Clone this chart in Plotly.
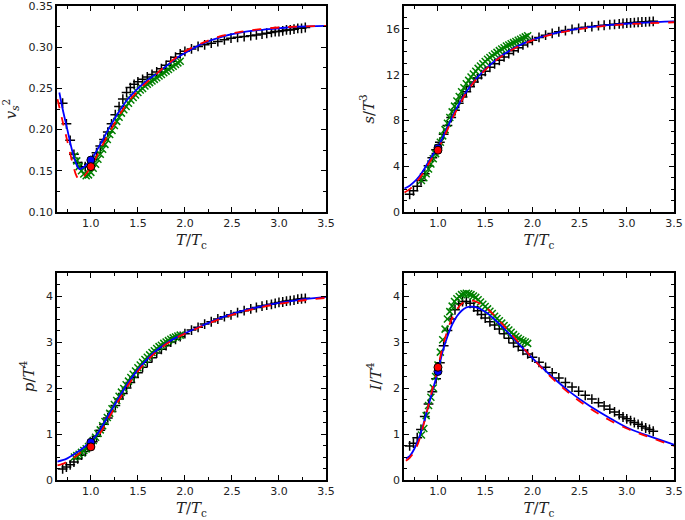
import plotly.graph_objects as go
from plotly.subplots import make_subplots

# ---------------- data ----------------
# lattice data set 1 (black +)
T_black = [0.70,0.74,0.78,0.82,0.86,0.90,0.94,0.98,1.02,1.06,1.10,1.14,1.18,1.22,1.26,1.30,1.34,1.38,1.42,1.46,
           1.50,1.55,1.60,1.65,1.70,1.75,1.80,1.85,1.90,1.95,2.00,2.07,2.14,2.21,2.28,2.35,2.42,2.49,2.56,2.63,
           2.70,2.76,2.82,2.87,2.92,2.96,3.00,3.04,3.08,3.12,3.16,3.20,3.24,3.28]
vs2_black = [0.232,0.207,0.187,0.170,0.160,0.155,0.155,0.158,0.164,0.172,0.180,0.188,0.197,0.207,0.218,0.228,0.237,0.245,0.251,0.255,
             0.258,0.261,0.264,0.267,0.270,0.274,0.278,0.283,0.288,0.292,0.295,0.298,0.301,0.303,0.305,0.307,0.309,0.311,0.312,0.313,
             0.314,0.315,0.316,0.317,0.318,0.319,0.319,0.320,0.321,0.321,0.322,0.323,0.323,0.324]
s_black = [1.55,1.85,2.25,2.75,3.35,4.05,4.75,5.45,6.10,6.80,7.55,8.25,8.90,9.50,10.05,10.50,10.95,11.35,11.70,12.00,
           12.30,12.65,12.95,13.25,13.55,13.85,14.10,14.35,14.60,14.80,15.00,15.25,15.45,15.60,15.75,15.85,15.95,16.05,16.15,16.20,
           16.28,16.32,16.37,16.40,16.44,16.47,16.50,16.53,16.55,16.58,16.60,16.62,16.64,16.66]
p_black = [0.24,0.28,0.33,0.39,0.46,0.54,0.62,0.72,0.83,0.95,1.08,1.21,1.35,1.49,1.62,1.76,1.88,2.00,2.12,2.23,
           2.33,2.45,2.56,2.66,2.76,2.84,2.92,3.00,3.06,3.12,3.18,3.26,3.32,3.39,3.44,3.50,3.55,3.59,3.64,3.68,
           3.72,3.75,3.78,3.80,3.82,3.84,3.86,3.87,3.89,3.90,3.91,3.93,3.94,3.95]
I_black = [0.74,0.80,0.92,1.10,1.38,1.65,1.92,2.20,2.55,2.92,3.25,3.50,3.70,3.83,3.88,3.88,3.84,3.76,3.68,3.60,
           3.52,3.44,3.37,3.28,3.18,3.08,2.98,2.90,2.82,2.74,2.67,2.56,2.45,2.33,2.22,2.12,2.02,1.93,1.84,1.76,
           1.68,1.61,1.54,1.48,1.42,1.37,1.33,1.29,1.25,1.21,1.17,1.13,1.10,1.06]

# lattice data set 2 (green x)
T_green = [0.825,0.850,0.875,0.900,0.925,0.950,0.975,1.000,1.025,1.050,1.075,1.100,1.125,1.150,1.175,1.200,
           1.225,1.250,1.275,1.300,1.325,1.350,1.375,1.400,1.425,1.450,1.475,1.500,1.525,1.550,1.575,1.600,
           1.625,1.650,1.675,1.700,1.725,1.750,1.775,1.800,1.825,1.850,1.875,1.900,1.925,1.950]
vs2_green = [0.168,0.162,0.155,0.150,0.146,0.144,0.145,0.148,0.153,0.158,0.164,0.170,0.176,0.182,0.188,0.194,
             0.199,0.205,0.210,0.215,0.220,0.224,0.228,0.232,0.236,0.239,0.242,0.245,0.248,0.250,0.253,0.255,
             0.257,0.259,0.261,0.263,0.265,0.267,0.269,0.271,0.273,0.275,0.277,0.279,0.281,0.283]
s_green = [2.75,3.00,3.35,3.75,4.20,4.65,5.10,5.60,6.10,6.65,7.20,7.75,8.25,8.75,9.25,9.70,
           10.10,10.50,10.85,11.20,11.50,11.80,12.05,12.30,12.55,12.75,12.95,13.15,13.35,13.50,13.65,13.80,
           13.95,14.10,14.25,14.35,14.50,14.60,14.70,14.80,14.90,15.00,15.10,15.20,15.30,15.40]
p_green = [0.50,0.53,0.56,0.60,0.64,0.68,0.73,0.79,0.86,0.93,1.01,1.09,1.18,1.27,1.36,1.45,
           1.55,1.64,1.73,1.82,1.91,1.99,2.07,2.15,2.23,2.30,2.37,2.44,2.50,2.56,2.62,2.67,
           2.72,2.77,2.81,2.86,2.90,2.93,2.97,3.00,3.03,3.06,3.09,3.11,3.13,3.15]
I_green = [0.98,1.12,1.40,1.62,1.80,2.00,2.25,2.50,2.78,3.05,3.28,3.50,3.66,3.78,3.88,3.94,
           3.99,4.03,4.05,4.06,4.05,4.03,4.00,3.97,3.92,3.87,3.82,3.77,3.72,3.67,3.62,3.56,
           3.51,3.46,3.41,3.36,3.31,3.26,3.21,3.16,3.12,3.08,3.05,3.02,3.00,2.97]

# model curves (blue solid, red dashed)
T_vs2_curve = [0.665,0.70,0.75,0.80,0.85,0.88,0.92,0.96,1.00,1.05,1.10,1.20,1.30,1.40,1.50,1.60,1.70,1.80,1.90,2.00,
               2.20,2.40,2.60,2.80,3.00,3.20,3.50]
vs2_blue = [0.245,0.225,0.200,0.175,0.157,0.152,0.154,0.158,0.163,0.172,0.182,0.203,0.222,0.238,0.250,0.260,0.268,0.277,0.286,0.293,
            0.305,0.313,0.318,0.321,0.323,0.325,0.326]
T_vs2_red = [0.645,0.70,0.75,0.80,0.85,0.88,0.92,0.96,1.00,1.05,1.10,1.20,1.30,1.40,1.50,1.60,1.70,1.80,1.90,2.00,
             2.20,2.40,2.60,2.80,3.00,3.20,3.50]
vs2_red = [0.237,0.210,0.186,0.162,0.143,0.139,0.142,0.148,0.155,0.165,0.176,0.197,0.217,0.234,0.247,0.258,0.268,0.278,0.287,0.295,
           0.306,0.314,0.319,0.322,0.324,0.325,0.326]

T_curve = [0.645,0.70,0.75,0.80,0.85,0.90,0.95,1.00,1.05,1.10,1.20,1.30,1.40,1.50,1.60,1.70,1.80,1.90,2.00,
           2.20,2.40,2.60,2.80,3.00,3.20,3.50]
s_blue = [2.05,2.30,2.65,3.10,3.70,4.40,5.05,5.70,6.50,7.40,9.10,10.50,11.60,12.45,13.20,13.80,14.30,14.70,15.05,
          15.55,15.90,16.15,16.33,16.45,16.55,16.65]
s_red = [1.70,2.00,2.40,2.90,3.50,4.20,4.85,5.45,6.30,7.20,8.95,10.40,11.55,12.40,13.15,13.75,14.25,14.65,15.00,
         15.50,15.85,16.10,16.28,16.40,16.48,16.58]
p_blue = [0.40,0.43,0.47,0.53,0.60,0.67,0.75,0.84,0.95,1.10,1.45,1.80,2.12,2.40,2.63,2.82,2.97,3.09,3.19,
          3.37,3.54,3.67,3.77,3.85,3.91,3.98]
p_red = [0.32,0.35,0.40,0.46,0.53,0.61,0.68,0.74,0.87,1.02,1.38,1.74,2.07,2.36,2.60,2.79,2.95,3.08,3.18,
         3.36,3.52,3.65,3.75,3.83,3.89,3.96]

T_I_curve = [0.66,0.70,0.75,0.80,0.85,0.90,0.95,1.00,1.05,1.10,1.15,1.20,1.25,1.30,1.35,1.40,1.50,1.60,1.70,1.80,1.90,2.00,
             2.20,2.40,2.60,2.80,3.00,3.20,3.50]
I_blue = [0.47,0.52,0.68,0.92,1.25,1.62,2.00,2.36,2.80,3.12,3.38,3.56,3.68,3.75,3.77,3.76,3.66,3.49,3.29,3.08,2.86,2.65,
          2.26,1.91,1.62,1.37,1.14,0.98,0.77]
I_red = [0.42,0.48,0.62,0.86,1.22,1.63,2.05,2.45,2.90,3.25,3.52,3.71,3.83,3.89,3.90,3.88,3.76,3.57,3.35,3.12,2.88,2.65,
         2.23,1.87,1.57,1.32,1.12,0.96,0.74]

# values at T = Tc (blue / red dots)
T_c_point = [1.0]
dot_blue = {"vs2": 0.163, "s": 5.6, "p": 0.82, "I": 2.36}
dot_red = {"vs2": 0.155, "s": 5.4, "p": 0.72, "I": 2.45}

y_titles = {
    "vs2": "<i>v</i><sub><i>s</i></sub><sup>2</sup>",
    "s": "<i>s</i>/<i>T</i><sup>3</sup>",
    "p": "<i>p</i>/<i>T</i><sup>4</sup>",
    "I": "<i>I</i>/<i>T</i><sup>4</sup>",
}
x_title = "<i>T</i>/<i>T</i><sub>c</sub>"

# ---------------- figure ----------------
fig = make_subplots(rows=2, cols=2)

BLUE = "#0000ff"
RED = "#ff0000"
GREEN = "#008000"

panels = [
    (1, 1, "vs2", T_vs2_curve, vs2_blue, T_vs2_red, vs2_red, vs2_black, vs2_green),
    (1, 2, "s", T_curve, s_blue, T_curve, s_red, s_black, s_green),
    (2, 1, "p", T_curve, p_blue, T_curve, p_red, p_black, p_green),
    (2, 2, "I", T_I_curve, I_blue, T_I_curve, I_red, I_black, I_green),
]

for (r, c, key, Tb, yb, Tr, yr, yblk, ygr) in panels:
    fig.add_trace(go.Scatter(x=T_black, y=yblk, mode="markers",
                             marker=dict(symbol="cross-thin", size=7, line=dict(color="black", width=1.5)),
                             showlegend=False), row=r, col=c)
    fig.add_trace(go.Scatter(x=T_green, y=ygr, mode="markers",
                             marker=dict(symbol="x-thin", size=7, line=dict(color=GREEN, width=1.5)),
                             showlegend=False), row=r, col=c)
    fig.add_trace(go.Scatter(x=Tb, y=yb, mode="lines", line=dict(color=BLUE, width=1.8, shape="spline"),
                             showlegend=False), row=r, col=c)
    fig.add_trace(go.Scatter(x=Tr, y=yr, mode="lines", line=dict(color=RED, width=1.8, dash="dash", shape="spline"),
                             showlegend=False), row=r, col=c)
    fig.add_trace(go.Scatter(x=T_c_point, y=[dot_blue[key]], mode="markers",
                             marker=dict(size=8, color=BLUE, line=dict(color="black", width=1)),
                             showlegend=False), row=r, col=c)
    fig.add_trace(go.Scatter(x=T_c_point, y=[dot_red[key]], mode="markers",
                             marker=dict(size=8, color=RED, line=dict(color="black", width=1)),
                             showlegend=False), row=r, col=c)

x_left = [57/685, 326/685]
x_right = [404/685, 674/685]
y_top = [1 - 212/520, 1 - 6/520]
y_bot = [1 - 480/520, 1 - 273/520]

tickfont = dict(family="DejaVu Sans", size=11, color="#222222")
titlefont = dict(family="DejaVu Serif", size=15, color="#222222")

y_specs = {
    "vs2": dict(range=[0.0999, 0.3501], tick0=0.10, dtick=0.05, tickformat=".2f", minor_dtick=0.025),
    "s": dict(range=[0, 18], tick0=0, dtick=4, tickformat="d", minor_dtick=1),
    "p": dict(range=[0, 4.5], tick0=0, dtick=1, tickformat="d", minor_dtick=0.25),
    "I": dict(range=[0, 4.5], tick0=0, dtick=1, tickformat="d", minor_dtick=0.25),
}
domains = {(1, 1): (x_left, y_top), (1, 2): (x_right, y_top), (2, 1): (x_left, y_bot), (2, 2): (x_right, y_bot)}

for (r, c, key, *_rest) in panels:
    xd, yd = domains[(r, c)]
    ys = y_specs[key]
    fig.update_xaxes(row=r, col=c, domain=xd, range=[0.64, 3.5001], tick0=1.0, dtick=0.5, tickformat=".1f",
                     ticks="inside", ticklen=5, tickwidth=1.3, tickcolor="black", ticklabeloverflow="allow",
                     minor=dict(ticks="inside", ticklen=3, tickwidth=1, tickcolor="black", tick0=0.75, dtick=0.25),
                     showline=True, linecolor="black", linewidth=1.5, mirror="ticks",
                     showgrid=False, zeroline=False, tickfont=tickfont,
                     title=dict(text=x_title, font=titlefont, standoff=6), automargin=False)
    fig.update_yaxes(row=r, col=c, domain=yd, range=ys["range"], tick0=ys["tick0"], dtick=ys["dtick"],
                     tickformat=ys["tickformat"], ticklabeloverflow="allow",
                     ticks="inside", ticklen=5, tickwidth=1.3, tickcolor="black",
                     minor=dict(ticks="inside", ticklen=3, tickwidth=1, tickcolor="black", dtick=ys["minor_dtick"]),
                     showline=True, linecolor="black", linewidth=1.5, mirror="ticks",
                     showgrid=False, zeroline=False, tickfont=tickfont,
                     title=dict(text=y_titles[key], font=titlefont, standoff=8), automargin=False)

fig.update_layout(width=685, height=520, margin=dict(l=0, r=0, t=0, b=0),
                  plot_bgcolor="white", paper_bgcolor="white")

fig.write_html("out.html", config={"displayModeBar": False},
               post_script="document.body.style.margin='0';document.body.style.overflow='hidden';")
